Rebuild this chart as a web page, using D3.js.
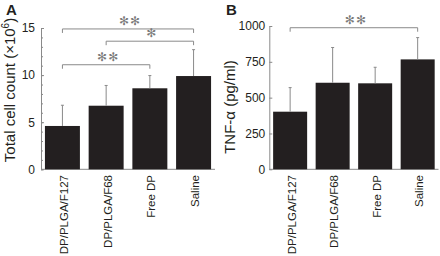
<!DOCTYPE html>
<html>
  <head>
    <script src="https://d3js.org/d3.v7.min.js"></script>
    <style>
      body, html { margin: 0; padding: 0; background: #fff; overflow: hidden; }
      svg { display: block; font-family: 'Liberation Sans', Arial, sans-serif; }
      .axis path, .axis line { stroke: #8a8a8a; }
      .axis text { fill: #231f20; font-size: 12px; }
    </style>
  </head>
  <body>
    <svg id="chart" width="440" height="256"></svg>
    <script>
      const groups = ["DP/PLGA/F127", "DP/PLGA/F68", "Free DP", "Saline"];

      // panel A: total cell count (x10^6)
      const cellMean = [4.6, 6.75, 8.6, 9.9];
      const cellErr = [2.2, 2.15, 1.35, 2.8];
      const cellTicks = [0, 5, 10, 15];
      const cellSig = [
        { a: 0, b: 3, y: 14.9, label: "✻✻" },
        { a: 1, b: 3, y: 13.6, label: "✻" },
        { a: 0, b: 2, y: 11.1, label: "✻✻" }
      ];

      // panel B: TNF-alpha (pg/ml)
      const tnfMean = [402, 604, 600, 767];
      const tnfErr = [168, 246, 112, 152];
      const tnfTicks = [0, 250, 500, 750, 1000];
      const tnfSig = [
        { a: 0, b: 3, y: 988, label: "✻✻" }
      ];

      const svg = d3.select("#chart");
      const barColor = "#231f20";
      const grey = "#8a8a8a";

      function panel(opt) {
        const g = svg.append("g");
        const x = d3.scaleBand().domain(groups).range(opt.xRange)
          .paddingInner(0.2).paddingOuter(0.09);
        const y = d3.scaleLinear().domain(opt.domain).range([169.3, opt.top]);
        const x0 = opt.xRange[0];

        // minor ticks
        if (opt.minor) {
          g.append("g").attr("class", "axis")
            .attr("transform", `translate(${x0},0)`)
            .call(d3.axisLeft(y).tickValues(d3.range(0, opt.domain[1] + 1, opt.minor))
              .tickSize(-2).tickFormat(""))
            .call(a => a.select(".domain").remove());
        }
        g.append("g").attr("class", "axis")
          .attr("transform", `translate(${x0},0)`)
          .call(d3.axisLeft(y).tickValues(opt.ticks).tickSizeInner(-3).tickSizeOuter(0)
            .tickPadding(opt.pad).tickFormat(d3.format("d")));

        // baseline
        g.append("line")
          .attr("x1", x0).attr("x2", opt.xRange[1])
          .attr("y1", y(0)).attr("y2", y(0))
          .attr("stroke", grey);

        // bars
        g.selectAll("rect.bar").data(groups).join("rect")
          .attr("class", "bar")
          .attr("x", d => x(d))
          .attr("width", x.bandwidth())
          .attr("y", (d, i) => y(opt.mean[i]))
          .attr("height", (d, i) => y(0) - y(opt.mean[i]))
          .attr("fill", barColor);

        // error bars
        const eb = g.selectAll("g.err").data(groups).join("g").attr("class", "err")
          .attr("stroke", grey).attr("stroke-width", 1);
        eb.append("line")
          .attr("x1", d => x(d) + x.bandwidth() / 2)
          .attr("x2", d => x(d) + x.bandwidth() / 2)
          .attr("y1", (d, i) => y(opt.mean[i]))
          .attr("y2", (d, i) => y(opt.mean[i] + opt.err[i]));
        eb.append("line")
          .attr("x1", d => x(d) + x.bandwidth() / 2 - 1.5)
          .attr("x2", d => x(d) + x.bandwidth() / 2 + 1.5)
          .attr("y1", (d, i) => y(opt.mean[i] + opt.err[i]))
          .attr("y2", (d, i) => y(opt.mean[i] + opt.err[i]));

        // category labels
        g.selectAll("text.cat").data(groups).join("text")
          .attr("class", "cat")
          .attr("transform", d => `translate(${x(d) + x.bandwidth() / 2 + 1.5},175) rotate(-90)`)
          .attr("dy", "0.35em")
          .attr("text-anchor", "end")
          .attr("font-size", 11.5)
          .attr("fill", barColor)
          .text(d => d);

        // significance brackets
        const cx = i => x(groups[i]) + x.bandwidth() / 2;
        opt.sig.forEach(s => {
          const yy = y(s.y);
          g.append("path")
            .attr("d", `M${cx(s.a)},${yy + 4}V${yy}H${cx(s.b)}V${yy + 4}`)
            .attr("fill", "none").attr("stroke", grey);
          g.append("text")
            .attr("x", (cx(s.a) + cx(s.b)) / 2 + 2)
            .attr("y", yy - 4)
            .attr("text-anchor", "middle")
            .attr("font-family", "DejaVu Sans")
            .attr("font-size", 12)
            .attr("fill", "#7a7a7a")
            .attr("letter-spacing", 1)
            .text(s.label);
        });

        // y title
        const t = g.append("text")
          .attr("transform", `translate(${opt.titleX},${opt.titleY}) rotate(-90)`)
          .attr("text-anchor", "middle")
          .attr("font-size", 15)
          .attr("fill", barColor);
        opt.title(t);

        // panel letter
        g.append("text")
          .attr("x", opt.letterX).attr("y", 15)
          .attr("font-size", 15).attr("font-weight", "bold")
          .attr("fill", barColor)
          .text(opt.letter);
      }

      panel({
        xRange: [41, 215], domain: [0, 15], top: 28, ticks: cellTicks, minor: 1, pad: 6,
        mean: cellMean, err: cellErr, sig: cellSig,
        titleX: 15, titleY: 90, letterX: 6, letter: "A",
        title: t => {
          t.append("tspan").text("Total cell count (×10");
          t.append("tspan").attr("font-size", 10).attr("dy", -6).text("6");
          t.append("tspan").attr("dy", 6).text(")");
        }
      });

      panel({
        xRange: [269.3, 438.5], domain: [0, 1000], top: 26, ticks: tnfTicks, minor: 0, pad: 4,
        mean: tnfMean, err: tnfErr, sig: tnfSig,
        titleX: 235, titleY: 107, letterX: 226, letter: "B",
        title: t => t.text("TNF-α (pg/ml)")
      });
    </script>
  </body>
</html>
